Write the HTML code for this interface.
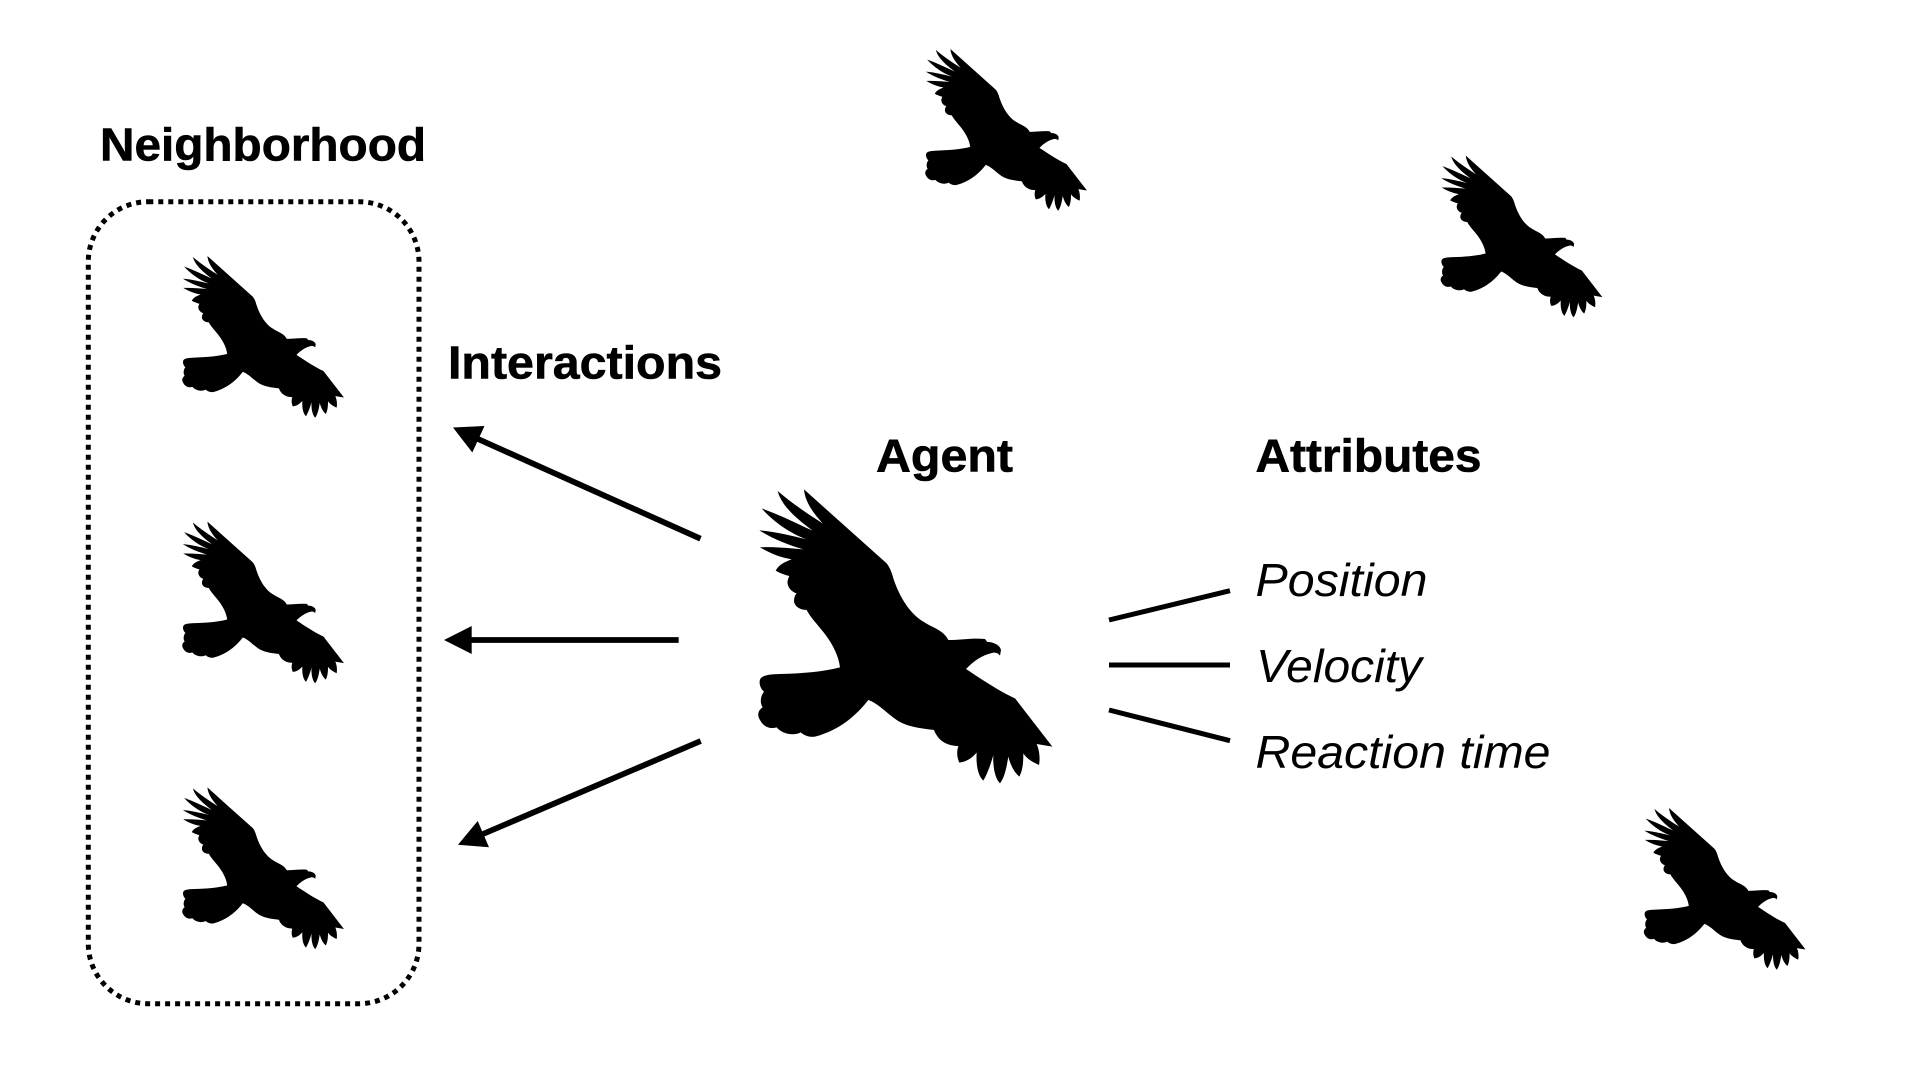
<!DOCTYPE html>
<html><head><meta charset="utf-8"><style>
html,body{margin:0;padding:0;background:#fff;width:1920px;height:1080px;overflow:hidden}
svg{display:block}
text{font-family:"Liberation Sans",Arial,sans-serif;font-size:46px;fill:#000}
.b{font-weight:bold;stroke:#000;stroke-width:.6px}.i{font-style:italic}
</style></head><body>
<svg width="1920" height="1080" viewBox="0 0 1920 1080" xmlns="http://www.w3.org/2000/svg">
<defs>
<path id="bird" d="M192,58 L300,155 L440,280 Q452,295 460,325 C480,385 510,430 550,455 C580,475 610,480 625,510 C660,510 700,503 735,507 L742,516 C760,516 780,525 783,540 L780,557 C775,550 770,548 760,548 C725,555 700,575 678,597 C720,625 780,665 825,685 L937,830 L890,822 C900,845 900,870 897,885 C875,875 860,865 850,850 C850,880 848,900 838,920 C820,905 810,880 805,860 C800,890 795,920 780,940 C765,925 758,890 760,855 C752,885 740,915 730,932 C712,915 708,880 710,848 C695,865 680,875 658,878 C650,860 650,845 655,828 C625,828 595,815 582,780 C540,775 500,770 470,750 C440,730 415,700 385,690 C350,735 300,780 225,800 C210,802 195,798 182,787 C165,797 130,795 110,772 C90,778 70,770 60,750 C50,735 55,720 68,712 C60,700 60,680 72,665 C60,655 55,635 62,625 C70,615 90,613 120,612 C190,610 250,605 300,592 C295,550 270,510 245,480 C225,455 210,440 200,420 C180,420 165,410 162,395 C162,382 165,375 170,370 C150,365 140,345 143,332 C145,325 147,320 148,318 C135,315 120,310 107,302 C115,285 135,275 155,268 C120,262 90,250 60,232 C105,230 150,235 190,238 C145,225 95,205 58,181 C105,185 155,197 200,208 C150,190 100,155 65,115 C120,135 170,160 218,182 C175,150 125,110 113,63 C150,95 200,130 248,160 C220,130 195,95 192,58 Z"/>
</defs>
<use href="#bird" transform="translate(740,470) scale(0.33333)"/>
<use href="#bird" transform="translate(172.2,245.4) scale(0.1833)"/>
<use href="#bird" transform="translate(172.2,511) scale(0.1833)"/>
<use href="#bird" transform="translate(172.2,776.8) scale(0.1833)"/>
<use href="#bird" transform="translate(915.2,38.4) scale(0.1833)"/>
<use href="#bird" transform="translate(1430.6,145) scale(0.1833)"/>
<use href="#bird" transform="translate(1633.8,797.4) scale(0.1833)"/>

<rect x="88.3" y="201.7" width="330.7" height="802" rx="60" ry="60" fill="none" stroke="#000" stroke-width="5" stroke-dasharray="5 5"/>

<g stroke="#000" stroke-width="5.8" fill="none">
<line x1="700.5" y1="538.7" x2="478" y2="439"/>
<line x1="678.7" y1="640" x2="471" y2="640"/>
<line x1="700.7" y1="741" x2="483" y2="834"/>
</g>
<polygon points="453,427.5 484.5,426 472.3,452.5"/>
<polygon points="444,640 471.7,626 471.7,654"/>
<polygon points="458,844.8 477.7,821 489,847.2"/>

<g stroke="#000" stroke-width="5" fill="none">
<line x1="1109" y1="620" x2="1230" y2="590.7"/>
<line x1="1109" y1="665" x2="1230" y2="665"/>
<line x1="1109" y1="710" x2="1230" y2="740.7"/>
</g>

<text class="b" x="100" y="160.7" textLength="326" lengthAdjust="spacingAndGlyphs">Neighborhood</text>
<text class="b" x="448" y="378.4" textLength="274" lengthAdjust="spacingAndGlyphs">Interactions</text>
<text class="b" x="876" y="471.5" textLength="137" lengthAdjust="spacingAndGlyphs">Agent</text>
<text class="b" x="1255.5" y="471.7" textLength="226" lengthAdjust="spacingAndGlyphs">Attributes</text>
<text class="i" x="1255.5" y="596.2" textLength="172" lengthAdjust="spacingAndGlyphs">Position</text>
<text class="i" x="1256" y="681.8" textLength="166" lengthAdjust="spacingAndGlyphs">Velocity</text>
<text class="i" x="1255.5" y="768" textLength="295" lengthAdjust="spacingAndGlyphs">Reaction time</text>
</svg>
</body></html>
